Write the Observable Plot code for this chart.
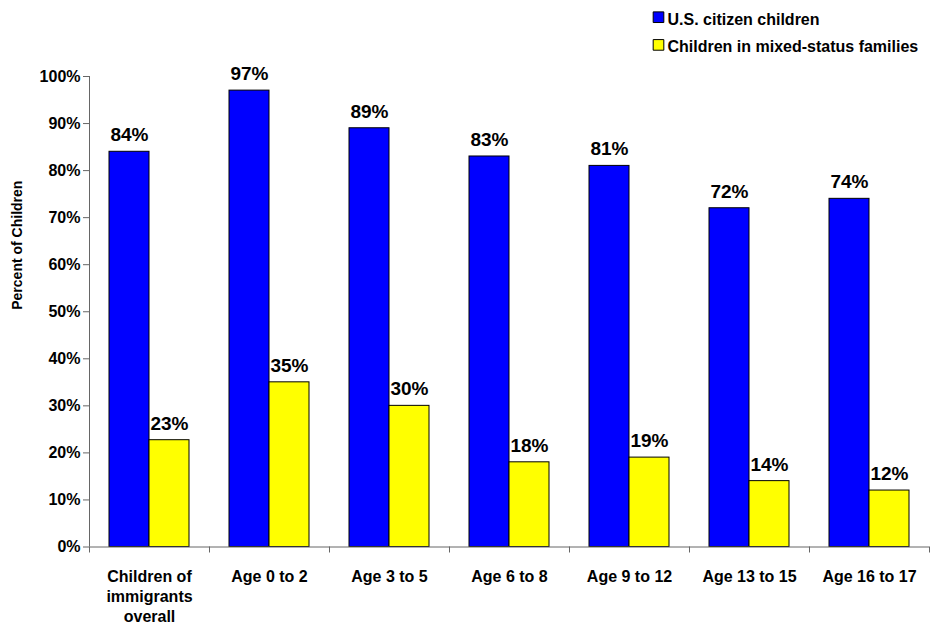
<!DOCTYPE html>
<html>
<head>
<meta charset="utf-8">
<script src="https://cdn.jsdelivr.net/npm/d3@7"></script>
<script src="https://cdn.jsdelivr.net/npm/@observablehq/plot@0.6"></script>
<style>
  html, body { margin: 0; padding: 0; background: #fff; }
  #chart svg { display: block; font-family: "Liberation Sans", Arial, sans-serif; }
</style>
</head>
<body>
<div id="chart"></div>
<script>
const categories = ["Children of\nimmigrants\noverall", "Age 0 to 2", "Age 3 to 5", "Age 6 to 8", "Age 9 to 12", "Age 13 to 15", "Age 16 to 17"];
const seriesNames = ["U.S. citizen children", "Children in mixed-status families"];
const citizenValues = [84, 97, 89, 83, 81, 72, 74];
const mixedValues = [22.7, 35, 30, 18, 19, 14, 12];
const seriesColors = ["#0000FF", "#FFFF00"];
const yTicks = [0, 10, 20, 30, 40, 50, 60, 70, 80, 90, 100];
const yLabel = "Percent of Children";

const citizenRows = categories.map((c, i) => ({category: c, value: citizenValues[i], label: Math.round(citizenValues[i]) + "%"}));
const mixedRows = categories.map((c, i) => ({category: c, value: mixedValues[i], label: Math.round(mixedValues[i]) + "%"}));

const axisColor = "#666";
const half = 60; // half band width in px (band = 120)

const chart = Plot.plot({
  width: 932,
  height: 624,
  marginLeft: 89,
  marginRight: 3,
  marginTop: 76,
  marginBottom: 77.5,
  style: {background: "#fff", fontFamily: "'Liberation Sans', Arial, sans-serif"},
  x: {type: "band", domain: categories, padding: 0, axis: null},
  y: {domain: [0, 100], axis: null},
  marks: [
    Plot.barY(citizenRows, {x: "category", y: "value", fill: seriesColors[0], stroke: "#000", strokeWidth: 1, insetLeft: 20, insetRight: 60}),
    Plot.barY(mixedRows, {x: "category", y: "value", fill: seriesColors[1], stroke: "#000", strokeWidth: 1, insetLeft: 60, insetRight: 20}),
    Plot.text(citizenRows, {x: "category", y: "value", text: "label", dx: -20, dy: -10.5, lineAnchor: "bottom", fontSize: 19, fontWeight: "bold", fill: "#000"}),
    Plot.text(mixedRows, {x: "category", y: "value", text: "label", dx: 20, dy: -10.5, lineAnchor: "bottom", fontSize: 19, fontWeight: "bold", fill: "#000"}),
    Plot.ruleY([0], {stroke: axisColor}),
    Plot.ruleX([categories[0]], {dx: -half, y1: 0, y2: 100, stroke: axisColor}),
    Plot.ruleX(categories, {dx: -half, y1: 0, y2: 0, insetBottom: -6, stroke: axisColor}),
    Plot.ruleX([categories[categories.length - 1]], {dx: half, y1: 0, y2: 0, insetBottom: -6, stroke: axisColor}),
    Plot.axisY({ticks: yTicks, tickFormat: d => d + "%", tickSize: 6, tickPadding: 3, fontSize: 16, fontWeight: "bold", stroke: axisColor, fill: "#000", label: null}),
    Plot.text(categories, {x: d => d, frameAnchor: "bottom", lineAnchor: "top", dy: 20.5, lineHeight: 1.25, fontSize: 16, fontWeight: "bold", fill: "#000"}),
    Plot.text([yLabel], {frameAnchor: "left", rotate: -90, dx: -68, dy: -2, lineAnchor: "bottom", fontSize: 14, fontWeight: "bold", fill: "#000"}),
    Plot.dot([seriesNames[0]], {frameAnchor: "top-left", dx: 569, dy: -59.3, symbol: "square", r: 6, fill: seriesColors[0], stroke: "#000", strokeWidth: 1}),
    Plot.dot([seriesNames[1]], {frameAnchor: "top-left", dx: 569, dy: -31.6, symbol: "square", r: 6, fill: seriesColors[1], stroke: "#000", strokeWidth: 1}),
    Plot.text([seriesNames[0]], {frameAnchor: "top-left", dx: 578, dy: -52, textAnchor: "start", lineAnchor: "bottom", fontSize: 16, fontWeight: "bold", fill: "#000"}),
    Plot.text([seriesNames[1]], {frameAnchor: "top-left", dx: 578, dy: -24.3, textAnchor: "start", lineAnchor: "bottom", fontSize: 16, fontWeight: "bold", fill: "#000"})
  ]
});
document.getElementById("chart").appendChild(chart);
</script>
</body>
</html>
